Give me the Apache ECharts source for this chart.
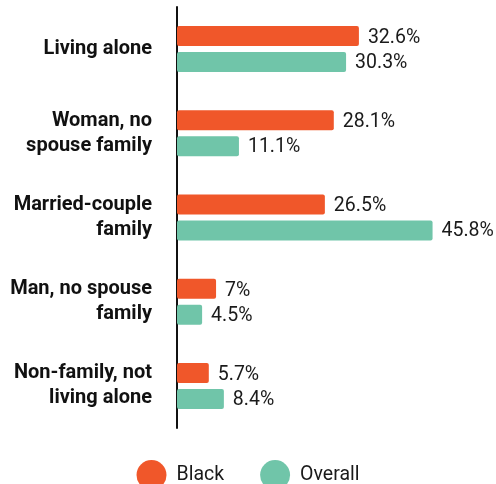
<!DOCTYPE html>
<html>
<head>
<meta charset="utf-8">
<script src="https://cdn.jsdelivr.net/npm/echarts@6/dist/echarts.min.js"></script>
<style>
  html, body { margin: 0; padding: 0; background: #ffffff; }
  #chart { width: 496px; height: 484px; }
</style>
</head>
<body>
<div id="chart"></div>
<script>
// Household types, share of households (%)
const categories = [
  'Living alone',
  'Woman, no\nspouse family',
  'Married-couple\nfamily',
  'Man, no spouse\nfamily',
  'Non-family, not\nliving alone'
];
const blackValues = [32.6, 28.1, 26.5, 7, 5.7];
const overallValues = [30.3, 11.1, 45.8, 4.5, 8.4];
const seriesNames = ['Black', 'Overall'];

const COLOR_BLACK = '#F0572A';
const COLOR_OVERALL = '#70C5A9';
const FONT = 'Roboto, "Noto Sans", sans-serif';

function valueLabel(dy) {
  return {
    show: true,
    position: 'right',
    distance: 9,
    offset: [0, dy],
    fontFamily: FONT,
    fontSize: 19.5,
    color: '#1a1a1a',
    formatter: p => p.value + '%'
  };
}

const chart = echarts.init(document.getElementById('chart'), null, { renderer: 'canvas' });
chart.setOption({
  animation: false,
  backgroundColor: '#ffffff',
  grid: { left: 177, right: 40, top: 7, bottom: 56, containLabel: false },
  xAxis: {
    type: 'value',
    min: 0,
    max: 50,
    show: false
  },
  yAxis: {
    type: 'category',
    data: categories,
    inverse: true,
    axisLine: { show: true, lineStyle: { color: '#111111', width: 2 } },
    axisTick: { show: false },
    axisLabel: {
      margin: 25,
      fontFamily: FONT,
      fontWeight: 'bold',
      fontSize: 20,
      lineHeight: 25,
      color: '#111111',
      align: 'right',
      padding: [6, 0, 0, 0]
    }
  },
  legend: {
    top: 455,
    left: 'center',
    icon: 'circle',
    itemWidth: 30,
    itemHeight: 30,
    itemGap: 36,
    textStyle: { fontFamily: FONT, fontSize: 19.5, color: '#1a1a1a', padding: [0, 0, 0, 5] },
    data: seriesNames
  },
  series: [
    {
      name: seriesNames[0],
      type: 'bar',
      data: blackValues,
      barWidth: 20,
      barGap: '30%',
      itemStyle: { color: COLOR_BLACK, borderRadius: 2 },
      label: valueLabel(2)
    },
    {
      name: seriesNames[1],
      type: 'bar',
      data: overallValues,
      barWidth: 20,
      barGap: '30%',
      itemStyle: { color: COLOR_OVERALL, borderRadius: 2 },
      label: valueLabel(1)
    }
  ]
});
</script>
</body>
</html>
